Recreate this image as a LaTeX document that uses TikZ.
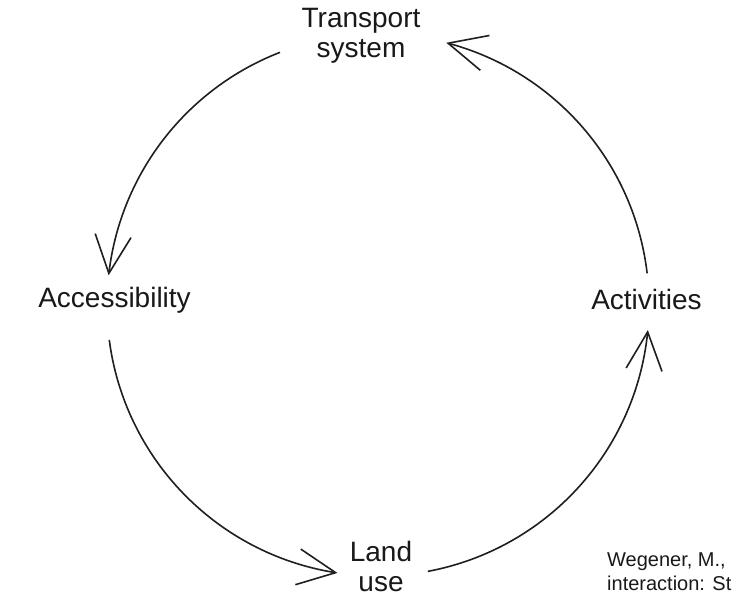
\documentclass[tikz,border=0pt]{standalone}
\usepackage{fontspec}
\setmainfont{Liberation Sans}
\usetikzlibrary{arrows.meta,bending,calc}
\begin{document}
\begin{tikzpicture}[x=1pt,y=1pt,
  lbl/.style={font=\fontsize{28}{30}\selectfont, inner sep=0pt, align=center, text=black!90},
  cite/.style={font=\fontsize{20}{24}\selectfont, inner sep=0pt, align=left, text=black!90},
  cyc/.style={line width=1.6pt, draw=black!88, -{Straight Barb[length=38pt,width=36pt,flex]}}]
\useasboundingbox[fill=white] (0,0) rectangle (735,597);
\coordinate (C) at (378,292);
\node[lbl] (ts) at (361,561.5) {Transport\\system};
\node[lbl, anchor=base] (acc) at (114.5,289) {Accessibility};
\node[lbl, anchor=base] (act) at (646.5,287) {Activities};
\node[lbl] (lu) at (381,31) {Land\\use};
\node[cite, anchor=west] (ref) at (607,25) {Wegener, M.,\\interaction: St};
\coordinate (s1) at ($(C)+(111.2:271)$);
\coordinate (s2) at ($(C)+(187.4:271)$);
\coordinate (s3) at ($(C)+(280.6:271)$);
\coordinate (s4) at ($(C)+(6.7:271)$);
\draw[cyc] (s1) arc[start angle=111.2, end angle=173.7, radius=271];
\draw[cyc] (s2) arc[start angle=187.4, end angle=261.4, radius=271];
\draw[cyc] (s3) arc[start angle=280.6, end angle=354.7, radius=271];
\draw[cyc] (s4) arc[start angle=6.7, end angle=75.4, radius=271];
\end{tikzpicture}
\end{document}
